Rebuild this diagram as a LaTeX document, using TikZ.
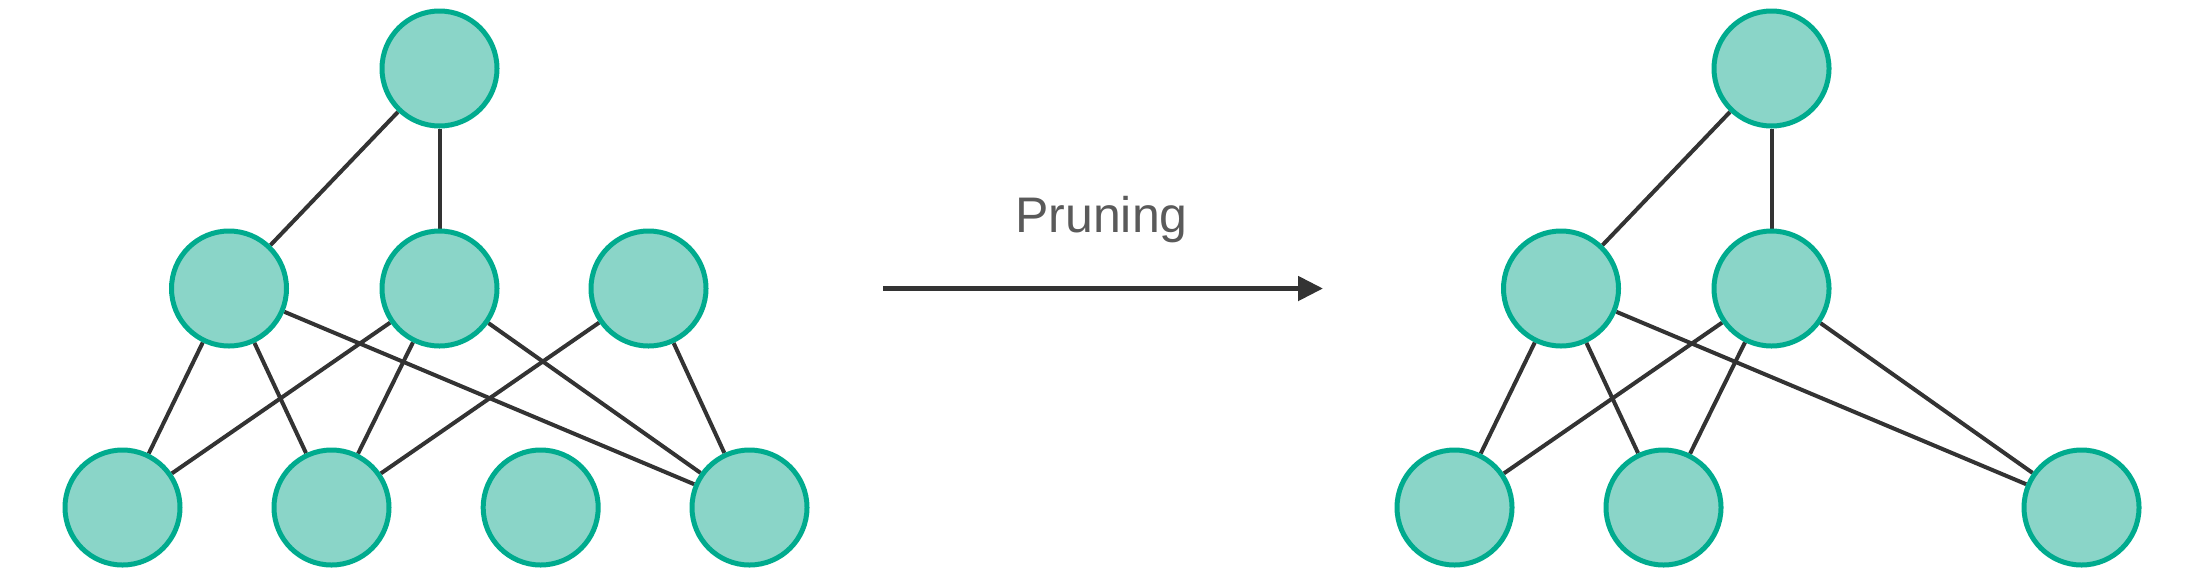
\documentclass[tikz,border=0pt]{standalone}
\usepackage{fontspec}
\setmainfont{Liberation Sans}
\usetikzlibrary{arrows.meta,backgrounds}
\definecolor{nodefill}{HTML}{8AD5C8}
\definecolor{nodeline}{HTML}{00AB8E}
\definecolor{edgecol}{HTML}{333333}
\definecolor{txtcol}{HTML}{5A5A5A}
\begin{document}
\begin{tikzpicture}[x=1pt,y=-1pt,
  neuron/.style={circle,draw=nodeline,fill=nodefill,line width=5pt,minimum size=115pt,inner sep=0pt},
  link/.style={draw=edgecol,line width=4pt},
  bigarrow/.style={draw=edgecol,line width=5pt,-{Triangle[length=25pt,width=24pt]}}]
\useasboundingbox (0,0) rectangle (2202,574);
% left network
\node[neuron] (lt) at (439.5,68.5) {};
\node[neuron] (lm1) at (229,288.5) {};
\node[neuron] (lm2) at (439.5,288.5) {};
\node[neuron] (lm3) at (648.5,288.5) {};
\node[neuron] (lb1) at (122.5,507.5) {};
\node[neuron] (lb2) at (331.5,507.5) {};
\node[neuron] (lb3) at (540.7,507.5) {};
\node[neuron] (lb4) at (749.5,507.5) {};
% right network
\node[neuron] (rt) at (1771.5,68.5) {};
\node[neuron] (rm1) at (1561,288.5) {};
\node[neuron] (rm2) at (1771.5,288.5) {};
\node[neuron] (rb1) at (1454.5,507.5) {};
\node[neuron] (rb2) at (1663.5,507.5) {};
\node[neuron] (rb3) at (2081.5,507.5) {};
\begin{pgfonlayer}{background}
\draw[link] (lt) -- (lm1);
\draw[link] (lt) -- (lm2);
\draw[link] (lm1) -- (lb1);
\draw[link] (lm1) -- (lb2);
\draw[link] (lm1) -- (lb4);
\draw[link] (lm2) -- (lb1);
\draw[link] (lm2) -- (lb2);
\draw[link] (lm2) -- (lb4);
\draw[link] (lm3) -- (lb2);
\draw[link] (lm3) -- (lb4);
\draw[link] (rt) -- (rm1);
\draw[link] (rt) -- (rm2);
\draw[link] (rm1) -- (rb1);
\draw[link] (rm1) -- (rb2);
\draw[link] (rm1) -- (rb3);
\draw[link] (rm2) -- (rb1);
\draw[link] (rm2) -- (rb2);
\draw[link] (rm2) -- (rb3);
\end{pgfonlayer}
% arrow
\coordinate (as) at (883,288.5);
\coordinate (ae) at (1323,288.5);
\draw[bigarrow] (as) -- (ae);
\node[anchor=base,text=txtcol,font=\fontsize{50}{60}\selectfont,inner sep=0pt] (lbl) at (1101.5,232) {Pruning};
\end{tikzpicture}
\end{document}
